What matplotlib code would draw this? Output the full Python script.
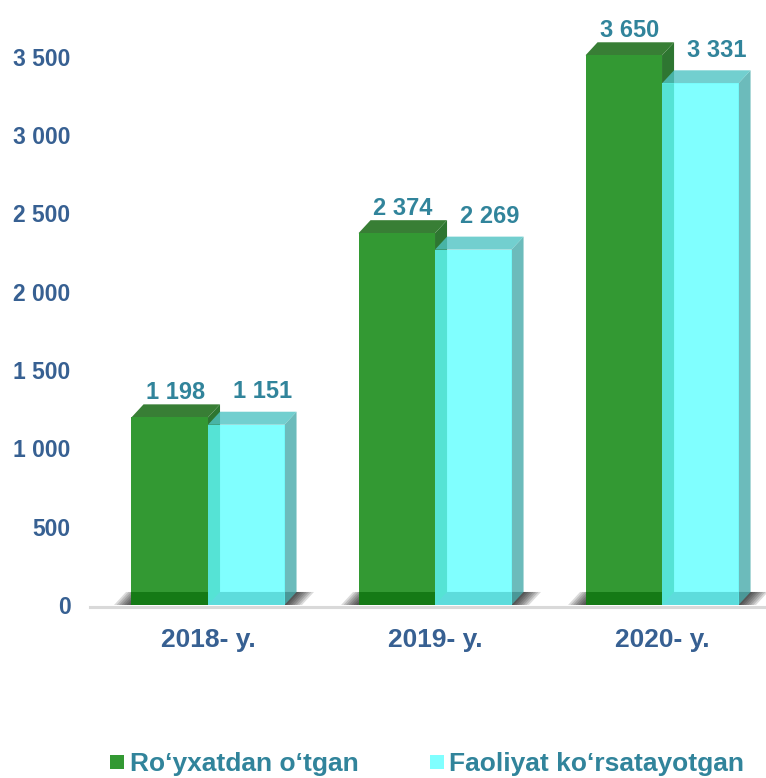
import matplotlib
matplotlib.use('Agg')
import matplotlib.pyplot as plt
from matplotlib.patches import Polygon, Rectangle

plt.rcParams['font.family'] = ['Liberation Sans', 'DejaVu Sans']
plt.rcParams['font.weight'] = 'bold'

years = ['2018- y.', '2019- y.', '2020- y.']
# heights as the bars are drawn in the source (the 2020 green bar stops near 3 500)
registered = [1198, 2374, 3510]
registered_labels = ['1 198', '2 374', '3 650']
active = [1151, 2269, 3331]
active_labels = ['1 151', '2 269', '3 331']
series_names = ['Ro\u2018yxatdan o\u2018tgan', 'Faoliyat ko\u2018rsatayotgan']
yticks = [0, 500, 1000, 1500, 2000, 2500, 3000, 3500]
ytick_labels = ['0', '500', '1 000', '1 500', '2 000', '2 500', '3 000', '3 500']

W = 0.337      # bar width (category spacing = 1)
DX = 0.053     # 3d depth, x
DY = 83        # 3d depth, y

green = dict(front='#339933', top='#387E35', side='#2E7631', alpha=1.0)
cyan = dict(front='#60FFFF', top='#4FC4C4', side='#47AAAA', alpha=0.8)

fig = plt.figure(figsize=(7.66, 7.78), dpi=100)
ax = fig.add_axes([90 / 766, 171 / 778, 676 / 766, 607 / 778])
ax.set_xlim(-0.5198, 2.458)
ax.set_ylim(-13, 3863)


def shadow(x0, x1):
    for k in range(7):
        p = (7 - k) * 0.011
        ax.add_patch(Polygon([(x0 - p, 0), (x1 + p, 0), (x1 + DX + p, DY),
                              (x0 + DX - p, DY)], closed=True,
                             color='black', alpha=0.14, lw=0, zorder=1))


def box(x0, h, c):
    x1 = x0 + W
    kw = dict(lw=0, alpha=c['alpha'], zorder=2)
    ax.add_patch(Polygon([(x1, 0), (x1 + DX, DY), (x1 + DX, h + DY), (x1, h)],
                         closed=True, color=c['side'], **kw))
    ax.add_patch(Polygon([(x0, h), (x1, h), (x1 + DX, h + DY), (x0 + DX, h + DY)],
                         closed=True, color=c['top'], **kw))
    ax.add_patch(Rectangle((x0, 0), W, h, color=c['front'], **kw))


for i in range(len(years)):
    shadow(i - W, i + W)
    box(i - W, registered[i], green)
    ax.add_patch(Rectangle((i - W, 0), W, DY, color='#157A16', lw=0, zorder=2))
    box(i, active[i], cyan)

    ax.annotate(registered_labels[i], (i - W / 2, registered[i]),
                xytext=(4.5, 13), textcoords='offset points',
                ha='center', va='baseline', fontsize=17, color='#31849B',
                annotation_clip=False)
    ax.annotate(active_labels[i], (i + W / 2, active[i]),
                xytext=(12, 19), textcoords='offset points',
                ha='center', va='baseline', fontsize=17, color='#31849B',
                annotation_clip=False)

for s in ['left', 'right', 'top']:
    ax.spines[s].set_visible(False)
ax.spines['bottom'].set_color('#D9D9D9')
ax.spines['bottom'].set_linewidth(2.2)
ax.spines['bottom'].set_position(('data', -13))

ax.set_yticks(yticks)
ax.set_yticklabels(ytick_labels)
ax.set_xticks(range(len(years)))
ax.set_xticklabels(years)
ax.tick_params(axis='y', length=0, pad=14, labelsize=16.5, labelcolor='#376092')
ax.tick_params(axis='x', length=0, pad=15, labelsize=19, labelcolor='#376092')

# legend
for x_sq, x_txt, col, name in [(110, 130, '#339933', series_names[0]),
                                (430, 449, '#80FFFF', series_names[1])]:
    fig.patches.append(Rectangle((x_sq / 766, 9 / 778), 14 / 766, 14 / 778,
                                 transform=fig.transFigure, color=col, lw=0))
    fig.text(x_txt / 766, 7 / 778, name, fontsize=19, color='#31849B',
             ha='left', va='baseline')

fig.savefig('out.png', dpi=100)
